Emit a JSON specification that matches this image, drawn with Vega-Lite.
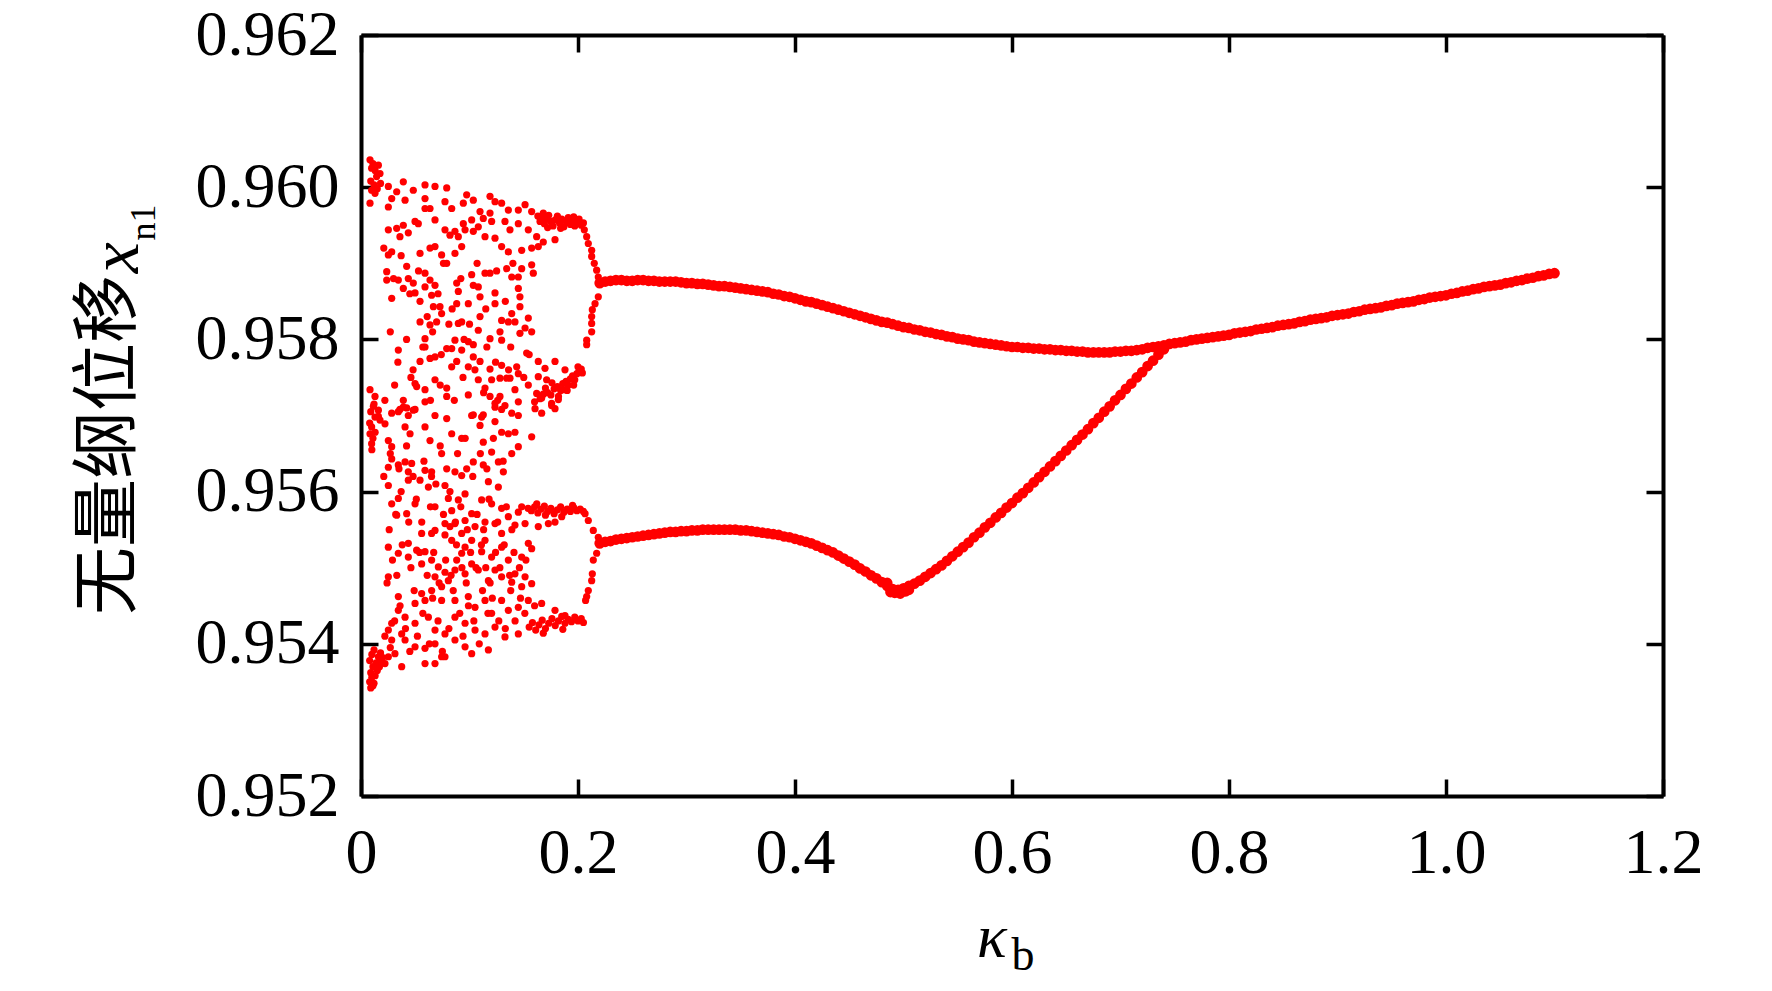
{
  "$schema": "https://vega.github.io/schema/vega-lite/v6.json",
  "width": 1302,
  "height": 761,
  "autosize": "none",
  "padding": {"left": 361, "top": 35, "right": 109, "bottom": 195},
  "background": "white",
  "config": {
    "view": {"stroke": null},
    "axis": {
      "grid": false,
      "domainColor": "black",
      "domainWidth": 4,
      "tickColor": "black",
      "tickWidth": 3.5,
      "tickSize": -17,
      "labelFont": "Liberation Serif",
      "labelFontSize": 64,
      "labelColor": "black",
      "labelOverlap": false,
      "labelFlush": false,
      "labelBound": false
    }
  },
  "resolve": {"axis": {"x": "independent", "y": "independent"}},
  "datasets": {
    "chaos": [
      {"k":0.0083,"v":0.96036},{"k":0.0098,"v":0.96025},{"k":0.016,"v":0.96029},{"k":0.0175,"v":0.96018},{"k":0.0144,"v":0.96014},{"k":0.0098,"v":0.95996},{"k":0.0129,"v":0.95992},{"k":0.0083,"v":0.95979},{"k":0.011,"v":0.96031},{"k":0.013,"v":0.96022},{"k":0.009,"v":0.96008},{"k":0.012,"v":0.96003},{"k":0.015,"v":0.95998},{"k":0.018,"v":0.96005},
      {"k":0.0252,"v":0.96001},{"k":0.0252,"v":0.95974},{"k":0.0283,"v":0.95985},{"k":0.0329,"v":0.95994},{"k":0.039,"v":0.96007},{"k":0.0406,"v":0.95983},{"k":0.0482,"v":0.95996},{"k":0.059,"v":0.96003},{"k":0.0682,"v":0.96001},{"k":0.079,"v":0.95999},{"k":0.059,"v":0.95985},{"k":0.059,"v":0.95972},{"k":0.0636,"v":0.95972},{"k":0.0774,"v":0.95981},{"k":0.0836,"v":0.95972},{"k":0.0682,"v":0.95957},{"k":0.0774,"v":0.95944},{"k":0.0252,"v":0.95944},{"k":0.0329,"v":0.95946},{"k":0.0359,"v":0.95935},{"k":0.0436,"v":0.9594},{"k":0.039,"v":0.9595},{"k":0.0498,"v":0.95955},{"k":0.0528,"v":0.95952},
      {"k":0.0252,"v":0.95911},{"k":0.0283,"v":0.95915},{"k":0.0544,"v":0.95913},{"k":0.0636,"v":0.9592},{"k":0.0682,"v":0.95922},{"k":0.0743,"v":0.95911},{"k":0.079,"v":0.959},{"k":0.0866,"v":0.95913},{"k":0.0928,"v":0.95922},{"k":0.0974,"v":0.9599},{"k":0.1035,"v":0.95983},{"k":0.0943,"v":0.95979},{"k":0.1097,"v":0.95968},{"k":0.1189,"v":0.95988},{"k":0.1235,"v":0.95981},{"k":0.1296,"v":0.95979},{"k":0.1358,"v":0.9597},{"k":0.145,"v":0.9597},{"k":0.1512,"v":0.95977},{"k":0.1573,"v":0.95968},
      {"k":0.163,"v":0.95962},{"k":0.165,"v":0.95955},{"k":0.167,"v":0.9596},{"k":0.169,"v":0.95952},{"k":0.171,"v":0.95958},{"k":0.173,"v":0.95963},{"k":0.175,"v":0.95955},{"k":0.177,"v":0.95949},{"k":0.179,"v":0.95957},{"k":0.181,"v":0.95962},{"k":0.183,"v":0.95953},{"k":0.185,"v":0.95958},{"k":0.187,"v":0.95948},{"k":0.189,"v":0.95955},{"k":0.191,"v":0.9596},{"k":0.193,"v":0.95951},{"k":0.195,"v":0.95956},{"k":0.197,"v":0.95949},{"k":0.199,"v":0.95954},{"k":0.201,"v":0.95958},{"k":0.203,"v":0.9595},{"k":0.205,"v":0.95953},{"k":0.172,"v":0.95947},{"k":0.184,"v":0.95946},{"k":0.196,"v":0.95961},{"k":0.168,"v":0.95966},
      {"k":0.1189,"v":0.95966},{"k":0.1204,"v":0.95955},{"k":0.1127,"v":0.95959},{"k":0.102,"v":0.95957},{"k":0.0943,"v":0.95952},{"k":0.0866,"v":0.95942},{"k":0.082,"v":0.95937},{"k":0.0897,"v":0.95935},{"k":0.0959,"v":0.95944},{"k":0.1035,"v":0.95942},{"k":0.1081,"v":0.95948},{"k":0.1143,"v":0.95935},{"k":0.1235,"v":0.95933},{"k":0.1296,"v":0.95922},{"k":0.1358,"v":0.95915},{"k":0.1481,"v":0.95917},{"k":0.1573,"v":0.9592},{"k":0.1634,"v":0.95922},{"k":0.168,"v":0.95928},{"k":0.1788,"v":0.95931},{"k":0.1327,"v":0.95955},{"k":0.1373,"v":0.95944},{"k":0.145,"v":0.95952},{"k":0.1542,"v":0.95944},{"k":0.1619,"v":0.95935},
      {"k":0.0237,"v":0.95889},{"k":0.0237,"v":0.95878},{"k":0.0283,"v":0.95854},{"k":0.0344,"v":0.95878},{"k":0.0421,"v":0.95896},{"k":0.0436,"v":0.9588},{"k":0.039,"v":0.95867},{"k":0.0482,"v":0.95874},{"k":0.0498,"v":0.95861},{"k":0.059,"v":0.95887},{"k":0.059,"v":0.95869},{"k":0.0636,"v":0.95878},{"k":0.0682,"v":0.95871},{"k":0.0651,"v":0.95858},{"k":0.0544,"v":0.9585},{"k":0.0667,"v":0.95843},{"k":0.0728,"v":0.95843},{"k":0.0743,"v":0.95834},{"k":0.0697,"v":0.95823},{"k":0.0636,"v":0.95819},{"k":0.0544,"v":0.95823},
      {"k":0.0882,"v":0.95874},{"k":0.0897,"v":0.95863},{"k":0.0882,"v":0.95847},{"k":0.0989,"v":0.95847},{"k":0.102,"v":0.95885},{"k":0.1035,"v":0.95871},{"k":0.1081,"v":0.95869},{"k":0.1097,"v":0.95856},{"k":0.1143,"v":0.95887},{"k":0.1189,"v":0.95887},{"k":0.1235,"v":0.95861},{"k":0.1235,"v":0.95847},{"k":0.1343,"v":0.95893},{"k":0.1389,"v":0.95882},{"k":0.145,"v":0.95882},{"k":0.1481,"v":0.95893},{"k":0.1573,"v":0.95898},{"k":0.1588,"v":0.95887},{"k":0.145,"v":0.95867},{"k":0.1465,"v":0.95856},{"k":0.1465,"v":0.95843},{"k":0.1389,"v":0.95834},{"k":0.1358,"v":0.95823},{"k":0.1419,"v":0.95823},{"k":0.1542,"v":0.95828},{"k":0.1512,"v":0.95815},{"k":0.1573,"v":0.9581},{"k":0.1465,"v":0.95808},{"k":0.1296,"v":0.95825},{"k":0.1097,"v":0.9583},{"k":0.0928,"v":0.95823},{"k":0.0897,"v":0.95821},{"k":0.1081,"v":0.95812},{"k":0.1189,"v":0.95801},{"k":0.1281,"v":0.9581},{"k":0.1296,"v":0.95799},
      {"k":0.0866,"v":0.95799},{"k":0.0989,"v":0.95797},{"k":0.1035,"v":0.95793},{"k":0.0928,"v":0.95786},{"k":0.079,"v":0.95788},{"k":0.0836,"v":0.95788},{"k":0.059,"v":0.95801},{"k":0.059,"v":0.9579},{"k":0.0636,"v":0.95775},{"k":0.0682,"v":0.95777},{"k":0.0544,"v":0.95771},{"k":0.0344,"v":0.95786},{"k":0.0836,"v":0.95764},{"k":0.0882,"v":0.95771},{"k":0.0989,"v":0.95764},{"k":0.1035,"v":0.95777},{"k":0.1097,"v":0.95771},{"k":0.1189,"v":0.95761},{"k":0.1296,"v":0.95766},{"k":0.1343,"v":0.95749},{"k":0.1435,"v":0.95764},{"k":0.145,"v":0.95755},{"k":0.1527,"v":0.95782},{"k":0.1634,"v":0.95771},{"k":0.1696,"v":0.95762},{"k":0.1788,"v":0.95771},{"k":0.188,"v":0.9576},
      {"k":0.16,"v":0.95718},{"k":0.165,"v":0.95722},{"k":0.168,"v":0.95728},{"k":0.172,"v":0.9573},{"k":0.175,"v":0.95727},{"k":0.178,"v":0.95735},{"k":0.181,"v":0.95738},{"k":0.184,"v":0.95733},{"k":0.186,"v":0.95742},{"k":0.189,"v":0.95745},{"k":0.191,"v":0.9574},{"k":0.193,"v":0.95748},{"k":0.195,"v":0.95752},{"k":0.197,"v":0.95747},{"k":0.199,"v":0.95755},{"k":0.201,"v":0.95758},{"k":0.203,"v":0.95761},{"k":0.204,"v":0.95756},{"k":0.182,"v":0.95725},{"k":0.19,"v":0.95733},{"k":0.196,"v":0.9574},{"k":0.17,"v":0.95736},{"k":0.176,"v":0.95743},{"k":0.2,"v":0.95764},
      {"k":0.1634,"v":0.95751},{"k":0.1711,"v":0.95747},{"k":0.1542,"v":0.9574},{"k":0.1619,"v":0.95729},{"k":0.1665,"v":0.95723},{"k":0.1757,"v":0.95716},{"k":0.1819,"v":0.95721},{"k":0.1865,"v":0.95734},{"k":0.0498,"v":0.95742},{"k":0.0513,"v":0.95738},{"k":0.059,"v":0.95734},{"k":0.0682,"v":0.95747},{"k":0.079,"v":0.95736},{"k":0.079,"v":0.95725},{"k":0.059,"v":0.95718},{"k":0.0421,"v":0.9571},{"k":0.0359,"v":0.95708},{"k":0.0283,"v":0.95703},{"k":0.0498,"v":0.95708},{"k":0.0083,"v":0.95734},{"k":0.0129,"v":0.95725},{"k":0.0114,"v":0.95712},{"k":0.016,"v":0.95699},{"k":0.0989,"v":0.95727},{"k":0.1081,"v":0.95747},{"k":0.1143,"v":0.95736},{"k":0.1204,"v":0.95747},{"k":0.1189,"v":0.95725},{"k":0.1281,"v":0.95749},{"k":0.1281,"v":0.95725},{"k":0.1373,"v":0.95749},{"k":0.1419,"v":0.95734},{"k":0.145,"v":0.95718},{"k":0.1235,"v":0.95716},{"k":0.1035,"v":0.95701},{"k":0.1127,"v":0.95701},{"k":0.1296,"v":0.95708},{"k":0.1389,"v":0.95703},
      {"k":0.021,"v":0.9592},{"k":0.03,"v":0.9588},{"k":0.037,"v":0.9591},{"k":0.045,"v":0.9586},{"k":0.053,"v":0.9589},{"k":0.061,"v":0.9583},{"k":0.071,"v":0.9586},{"k":0.076,"v":0.959},{"k":0.084,"v":0.9584},{"k":0.092,"v":0.9588},{"k":0.1,"v":0.9582},{"k":0.107,"v":0.959},{"k":0.115,"v":0.9584},{"k":0.125,"v":0.9589},{"k":0.133,"v":0.9585},{"k":0.14,"v":0.959},{"k":0.027,"v":0.9581},{"k":0.034,"v":0.9577},{"k":0.042,"v":0.958},{"k":0.048,"v":0.9576},{"k":0.057,"v":0.9579},{"k":0.066,"v":0.9581},{"k":0.074,"v":0.9578},{"k":0.081,"v":0.9582},{"k":0.095,"v":0.958},{"k":0.105,"v":0.9576},{"k":0.116,"v":0.9579},{"k":0.124,"v":0.9577},{"k":0.138,"v":0.9579},{"k":0.022,"v":0.9572},{"k":0.031,"v":0.9574},{"k":0.039,"v":0.9572},{"k":0.046,"v":0.9575},{"k":0.064,"v":0.9572},{"k":0.073,"v":0.9574},{"k":0.086,"v":0.9572},{"k":0.094,"v":0.9575},{"k":0.113,"v":0.9573},{"k":0.126,"v":0.9572},{"k":0.136,"v":0.9576},{"k":0.15,"v":0.9575},{"k":0.155,"v":0.9578},
      {"k":0.2058,"v":0.95944},{"k":0.208,"v":0.95935},{"k":0.2095,"v":0.95926},{"k":0.2126,"v":0.95917},{"k":0.2126,"v":0.95909},{"k":0.215,"v":0.959},{"k":0.2172,"v":0.95891},{"k":0.2187,"v":0.95882},{"k":0.2187,"v":0.95856},{"k":0.2157,"v":0.95847},{"k":0.2132,"v":0.95839},{"k":0.2126,"v":0.9583},{"k":0.2126,"v":0.95821},{"k":0.2126,"v":0.9581},{"k":0.208,"v":0.95799},{"k":0.208,"v":0.95793},
      {"k":0.0129,"v":0.95698},{"k":0.016,"v":0.95707},{"k":0.0098,"v":0.95685},{"k":0.0083,"v":0.95676},{"k":0.0098,"v":0.95663},{"k":0.0175,"v":0.95694},{"k":0.0221,"v":0.95689},{"k":0.0252,"v":0.95667},{"k":0.0283,"v":0.95659},{"k":0.0344,"v":0.95705},{"k":0.039,"v":0.95711},{"k":0.0436,"v":0.957},{"k":0.0482,"v":0.95707},{"k":0.0406,"v":0.95685},{"k":0.0452,"v":0.95676},{"k":0.059,"v":0.95685},{"k":0.0682,"v":0.957},{"k":0.079,"v":0.95696},{"k":0.0636,"v":0.95667},{"k":0.0743,"v":0.9565},{"k":0.0836,"v":0.95676},{"k":0.0928,"v":0.9567},{"k":0.102,"v":0.957},{"k":0.1112,"v":0.95698},{"k":0.1097,"v":0.95687},{"k":0.1235,"v":0.95692},{"k":0.1127,"v":0.95665},{"k":0.1204,"v":0.95652},{"k":0.1296,"v":0.95678},{"k":0.1358,"v":0.95676},{"k":0.1419,"v":0.95678},{"k":0.1235,"v":0.95711},{"k":0.1327,"v":0.95713},{"k":0.145,"v":0.957},{"k":0.1573,"v":0.95672},{"k":0.145,"v":0.95659},{"k":0.1389,"v":0.9565},{"k":0.1604,"v":0.95709},{"k":0.1665,"v":0.95703},{"k":0.1757,"v":0.95713},{"k":0.1788,"v":0.95709},
      {"k":0.008,"v":0.9569},{"k":0.011,"v":0.9567},{"k":0.013,"v":0.95678},{"k":0.009,"v":0.95705},{"k":0.012,"v":0.95715},{"k":0.01,"v":0.95655},
      {"k":0.0252,"v":0.95632},{"k":0.0283,"v":0.95643},{"k":0.0344,"v":0.95635},{"k":0.0406,"v":0.95639},{"k":0.0467,"v":0.95637},{"k":0.0436,"v":0.95626},{"k":0.0252,"v":0.95608},{"k":0.0283,"v":0.95584},{"k":0.0344,"v":0.95591},{"k":0.0329,"v":0.95569},{"k":0.0421,"v":0.95571},{"k":0.0436,"v":0.95615},{"k":0.0498,"v":0.95584},{"k":0.0544,"v":0.95615},{"k":0.059,"v":0.95628},{"k":0.0651,"v":0.95626},{"k":0.0621,"v":0.95606},{"k":0.0682,"v":0.9558},{"k":0.0774,"v":0.95608},{"k":0.0805,"v":0.95591},{"k":0.0866,"v":0.95626},{"k":0.0928,"v":0.95621},{"k":0.0974,"v":0.9563},{"k":0.1035,"v":0.95639},{"k":0.1127,"v":0.95635},{"k":0.1266,"v":0.95639},{"k":0.1312,"v":0.95626},{"k":0.1174,"v":0.95613},{"k":0.1266,"v":0.95606},{"k":0.0836,"v":0.95575},{"k":0.0897,"v":0.95589},{"k":0.0959,"v":0.95597},{"k":0.0866,"v":0.95558},{"k":0.0959,"v":0.95562},{"k":0.102,"v":0.95571},{"k":0.0928,"v":0.95545},{"k":0.0774,"v":0.95558},{"k":0.082,"v":0.95554},{"k":0.1112,"v":0.95589},{"k":0.1204,"v":0.95584},{"k":0.1296,"v":0.95578},{"k":0.1358,"v":0.95567},{"k":0.145,"v":0.95573},{"k":0.1481,"v":0.9558},
      {"k":0.021,"v":0.9562},{"k":0.027,"v":0.9565},{"k":0.035,"v":0.9563},{"k":0.042,"v":0.9566},{"k":0.048,"v":0.9562},{"k":0.058,"v":0.9564},{"k":0.065,"v":0.9562},{"k":0.073,"v":0.9566},{"k":0.079,"v":0.9563},{"k":0.089,"v":0.9565},{"k":0.096,"v":0.9567},{"k":0.103,"v":0.9562},{"k":0.11,"v":0.9565},{"k":0.116,"v":0.9563},{"k":0.122,"v":0.9567},{"k":0.131,"v":0.9564},
      {"k":0.026,"v":0.9555},{"k":0.032,"v":0.9557},{"k":0.037,"v":0.956},{"k":0.044,"v":0.9556},{"k":0.051,"v":0.9559},{"k":0.056,"v":0.9556},{"k":0.064,"v":0.9558},{"k":0.069,"v":0.9561},{"k":0.076,"v":0.9557},{"k":0.082,"v":0.956},{"k":0.087,"v":0.9556},{"k":0.092,"v":0.9558},{"k":0.098,"v":0.9555},{"k":0.107,"v":0.9557},{"k":0.113,"v":0.9555},{"k":0.118,"v":0.9559},{"k":0.126,"v":0.9556},{"k":0.134,"v":0.9558},{"k":0.139,"v":0.9555},
      {"k":0.154,"v":0.95578},{"k":0.157,"v":0.95575},{"k":0.16,"v":0.9558},{"k":0.163,"v":0.95572},{"k":0.166,"v":0.95577},{"k":0.169,"v":0.95581},{"k":0.172,"v":0.95574},{"k":0.175,"v":0.95578},{"k":0.178,"v":0.95571},{"k":0.181,"v":0.95576},{"k":0.184,"v":0.9558},{"k":0.187,"v":0.95573},{"k":0.19,"v":0.95577},{"k":0.193,"v":0.95574},{"k":0.196,"v":0.95579},{"k":0.199,"v":0.95575},{"k":0.202,"v":0.95577},{"k":0.205,"v":0.95574},{"k":0.17,"v":0.95569},{"k":0.185,"v":0.95567},{"k":0.162,"v":0.95584},{"k":0.195,"v":0.95582},
      {"k":0.1419,"v":0.95556},{"k":0.1512,"v":0.95558},{"k":0.1634,"v":0.95554},{"k":0.1727,"v":0.95558},{"k":0.1788,"v":0.9556},{"k":0.1051,"v":0.95554},{"k":0.1143,"v":0.9556},{"k":0.1235,"v":0.95558},{"k":0.1296,"v":0.95545},{"k":0.1143,"v":0.95536},{"k":0.102,"v":0.95536},{"k":0.0959,"v":0.95527},{"k":0.0836,"v":0.95536},{"k":0.0774,"v":0.95543},{"k":0.0682,"v":0.95549},{"k":0.0651,"v":0.95545},{"k":0.0559,"v":0.95545},{"k":0.0252,"v":0.95527},{"k":0.0344,"v":0.95519},{"k":0.0436,"v":0.95532},{"k":0.0436,"v":0.95514},{"k":0.0513,"v":0.95523},{"k":0.059,"v":0.95521},{"k":0.0559,"v":0.95505},{"k":0.0651,"v":0.9551},{"k":0.0713,"v":0.95501},{"k":0.0682,"v":0.95488},{"k":0.0774,"v":0.95494},{"k":0.0882,"v":0.9551},{"k":0.0928,"v":0.95519},{"k":0.102,"v":0.95505},{"k":0.1112,"v":0.95521},{"k":0.1204,"v":0.95514},{"k":0.1296,"v":0.95527},{"k":0.1358,"v":0.9551},{"k":0.1481,"v":0.95514},{"k":0.1542,"v":0.95532},{"k":0.1573,"v":0.95525},
      {"k":0.024,"v":0.9548},{"k":0.029,"v":0.9551},{"k":0.033,"v":0.9549},{"k":0.038,"v":0.9553},{"k":0.046,"v":0.955},{"k":0.049,"v":0.9547},{"k":0.054,"v":0.9552},{"k":0.061,"v":0.9549},{"k":0.067,"v":0.9552},{"k":0.072,"v":0.9548},{"k":0.078,"v":0.9551},{"k":0.083,"v":0.9549},{"k":0.088,"v":0.9553},{"k":0.093,"v":0.955},{"k":0.097,"v":0.9548},{"k":0.101,"v":0.9552},{"k":0.106,"v":0.955},{"k":0.111,"v":0.9553},{"k":0.115,"v":0.955},{"k":0.119,"v":0.9548},{"k":0.124,"v":0.9552},{"k":0.128,"v":0.955},{"k":0.132,"v":0.9553},{"k":0.137,"v":0.9549},{"k":0.141,"v":0.9552},{"k":0.146,"v":0.955},{"k":0.152,"v":0.9551},
      {"k":0.1419,"v":0.95492},{"k":0.1512,"v":0.95488},{"k":0.1573,"v":0.95479},{"k":0.1481,"v":0.95475},{"k":0.1389,"v":0.95481},{"k":0.1296,"v":0.95488},{"k":0.1235,"v":0.95497},{"k":0.1174,"v":0.95483},{"k":0.1081,"v":0.95497},{"k":0.0959,"v":0.95492},{"k":0.0866,"v":0.95497},{"k":0.0805,"v":0.95483},{"k":0.0743,"v":0.95475},{"k":0.0651,"v":0.9547},{"k":0.0559,"v":0.95466},{"k":0.059,"v":0.95457},{"k":0.0498,"v":0.95453},{"k":0.0743,"v":0.95457},{"k":0.0866,"v":0.95457},{"k":0.0989,"v":0.95462},{"k":0.1051,"v":0.95448},{"k":0.1143,"v":0.95457},{"k":0.1204,"v":0.9544},{"k":0.1296,"v":0.95457},{"k":0.1358,"v":0.95444},{"k":0.145,"v":0.95448},{"k":0.1542,"v":0.95457},{"k":0.1665,"v":0.95453},{"k":0.1788,"v":0.95444},{"k":0.188,"v":0.95437},
      {"k":0.022,"v":0.9541},{"k":0.027,"v":0.95395},{"k":0.031,"v":0.9543},{"k":0.036,"v":0.9545},{"k":0.041,"v":0.9542},{"k":0.045,"v":0.9539},{"k":0.052,"v":0.9541},{"k":0.057,"v":0.9544},{"k":0.063,"v":0.954},{"k":0.066,"v":0.9546},{"k":0.071,"v":0.9543},{"k":0.075,"v":0.9539},{"k":0.081,"v":0.9542},{"k":0.085,"v":0.9547},{"k":0.091,"v":0.9544},{"k":0.094,"v":0.9541},{"k":0.099,"v":0.9545},{"k":0.104,"v":0.9543},{"k":0.109,"v":0.954},{"k":0.112,"v":0.9547},{"k":0.117,"v":0.9544},{"k":0.121,"v":0.9546},{"k":0.127,"v":0.9543},{"k":0.133,"v":0.9542},{"k":0.138,"v":0.9547},{"k":0.142,"v":0.9543},{"k":0.147,"v":0.9546},{"k":0.151,"v":0.9544},{"k":0.16,"v":0.9545},
      {"k":0.155,"v":0.95422},{"k":0.158,"v":0.95428},{"k":0.161,"v":0.95418},{"k":0.164,"v":0.95425},{"k":0.167,"v":0.95431},{"k":0.17,"v":0.9542},{"k":0.173,"v":0.95427},{"k":0.176,"v":0.95433},{"k":0.179,"v":0.95424},{"k":0.182,"v":0.9543},{"k":0.185,"v":0.95436},{"k":0.188,"v":0.95427},{"k":0.191,"v":0.95432},{"k":0.194,"v":0.95429},{"k":0.197,"v":0.95435},{"k":0.2,"v":0.9543},{"k":0.203,"v":0.95433},{"k":0.205,"v":0.95428},{"k":0.168,"v":0.95414},{"k":0.186,"v":0.95419},
      {"k":0.0252,"v":0.95488},{"k":0.0344,"v":0.95462},{"k":0.0344,"v":0.95444},{"k":0.0283,"v":0.95427},{"k":0.0252,"v":0.95418},{"k":0.0406,"v":0.95435},{"k":0.0498,"v":0.95427},{"k":0.0621,"v":0.95435},{"k":0.0682,"v":0.95418},{"k":0.0774,"v":0.95413},{"k":0.0866,"v":0.95435},{"k":0.0959,"v":0.95427},{"k":0.1051,"v":0.95418},{"k":0.1143,"v":0.95413},{"k":0.1235,"v":0.95422},{"k":0.1327,"v":0.95409},{"k":0.145,"v":0.95413},{"k":0.0375,"v":0.95413},{"k":0.0283,"v":0.95405},{"k":0.0406,"v":0.95405},{"k":0.0498,"v":0.95396},{"k":0.059,"v":0.95394},{"k":0.0682,"v":0.954},{"k":0.0743,"v":0.95383},{"k":0.0866,"v":0.95405},{"k":0.0959,"v":0.95396},{"k":0.102,"v":0.95387},{"k":0.1174,"v":0.95392},{"k":0.059,"v":0.95374},{"k":0.0682,"v":0.95374},{"k":0.0774,"v":0.95383},{"k":0.0375,"v":0.9537},{"k":0.0252,"v":0.95383},{"k":0.0221,"v":0.95374},{"k":0.0313,"v":0.95387},
      {"k":0.008,"v":0.9535},{"k":0.01,"v":0.95356},{"k":0.012,"v":0.95348},{"k":0.009,"v":0.95362},{"k":0.011,"v":0.9537},{"k":0.013,"v":0.95358},{"k":0.015,"v":0.95365},{"k":0.014,"v":0.95375},{"k":0.017,"v":0.9537},{"k":0.019,"v":0.95378},{"k":0.016,"v":0.95383},{"k":0.008,"v":0.95378},{"k":0.01,"v":0.95386},{"k":0.012,"v":0.95392},{"k":0.018,"v":0.95388},{"k":0.02,"v":0.95382},{"k":0.009,"v":0.95342},{"k":0.011,"v":0.95345},
      {"k":0.2065,"v":0.95571},{"k":0.2095,"v":0.95562},{"k":0.2141,"v":0.95549},{"k":0.2187,"v":0.9554},{"k":0.2172,"v":0.95519},{"k":0.2141,"v":0.9551},{"k":0.2132,"v":0.95492},{"k":0.2126,"v":0.95483},{"k":0.2095,"v":0.9547},{"k":0.208,"v":0.95462},{"k":0.207,"v":0.95457}
    ],
    "branch": [
      {"k":0.22,"v":0.95874},{"k":0.225,"v":0.95876},{"k":0.23,"v":0.95877},{"k":0.235,"v":0.95878},{"k":0.24,"v":0.95878},{"k":0.245,"v":0.95877},{"k":0.25,"v":0.95877},{"k":0.255,"v":0.95878},{"k":0.26,"v":0.95878},{"k":0.265,"v":0.95877},{"k":0.27,"v":0.95877},{"k":0.275,"v":0.95876},{"k":0.28,"v":0.95876},{"k":0.285,"v":0.95876},{"k":0.29,"v":0.95876},{"k":0.295,"v":0.95875},{"k":0.3,"v":0.95874},{"k":0.305,"v":0.95874},{"k":0.31,"v":0.95873},{"k":0.315,"v":0.95873},{"k":0.32,"v":0.95872},{"k":0.325,"v":0.95871},{"k":0.33,"v":0.9587},{"k":0.335,"v":0.9587},{"k":0.34,"v":0.95869},{"k":0.345,"v":0.95868},{"k":0.35,"v":0.95867},{"k":0.355,"v":0.95866},{"k":0.36,"v":0.95865},{"k":0.365,"v":0.95864},{"k":0.37,"v":0.95863},{"k":0.375,"v":0.95862},{"k":0.38,"v":0.9586},{"k":0.385,"v":0.95859},{"k":0.39,"v":0.95857},{"k":0.395,"v":0.95856},{"k":0.4,"v":0.95854},{"k":0.405,"v":0.95852},{"k":0.41,"v":0.9585},{"k":0.415,"v":0.95849},{"k":0.42,"v":0.95847},{"k":0.425,"v":0.95845},{"k":0.43,"v":0.95843},{"k":0.435,"v":0.95841},{"k":0.44,"v":0.95839},{"k":0.445,"v":0.95837},{"k":0.45,"v":0.95835},{"k":0.455,"v":0.95833},{"k":0.46,"v":0.95831},{"k":0.465,"v":0.95829},{"k":0.47,"v":0.95827},{"k":0.475,"v":0.95825},{"k":0.48,"v":0.95823},{"k":0.485,"v":0.95822},{"k":0.49,"v":0.9582},{"k":0.495,"v":0.95818},{"k":0.5,"v":0.95816},
      {"k":0.505,"v":0.95815},{"k":0.51,"v":0.95813},{"k":0.515,"v":0.95812},{"k":0.52,"v":0.9581},{"k":0.525,"v":0.95809},{"k":0.53,"v":0.95807},{"k":0.535,"v":0.95806},{"k":0.54,"v":0.95804},{"k":0.545,"v":0.95803},{"k":0.55,"v":0.95801},{"k":0.555,"v":0.958},{"k":0.56,"v":0.95799},{"k":0.565,"v":0.95797},{"k":0.57,"v":0.95796},{"k":0.575,"v":0.95795},{"k":0.58,"v":0.95794},{"k":0.585,"v":0.95793},{"k":0.59,"v":0.95792},{"k":0.595,"v":0.95791},{"k":0.6,"v":0.9579},{"k":0.605,"v":0.9579},{"k":0.61,"v":0.95789},{"k":0.615,"v":0.95789},{"k":0.62,"v":0.95788},{"k":0.625,"v":0.95788},{"k":0.63,"v":0.95787},{"k":0.635,"v":0.95787},{"k":0.64,"v":0.95786},{"k":0.645,"v":0.95786},{"k":0.65,"v":0.95785},{"k":0.655,"v":0.95785},{"k":0.66,"v":0.95784},{"k":0.665,"v":0.95784},{"k":0.67,"v":0.95783},{"k":0.675,"v":0.95783},{"k":0.68,"v":0.95783},{"k":0.685,"v":0.95783},{"k":0.69,"v":0.95783},{"k":0.695,"v":0.95784},{"k":0.7,"v":0.95784},{"k":0.705,"v":0.95785},{"k":0.71,"v":0.95785},{"k":0.715,"v":0.95786},{"k":0.72,"v":0.95787},{"k":0.725,"v":0.95789},{"k":0.73,"v":0.9579},{"k":0.735,"v":0.95791},{"k":0.74,"v":0.95792},{"k":0.745,"v":0.95794},{"k":0.75,"v":0.95795},
      {"k":0.755,"v":0.95796},{"k":0.76,"v":0.95797},{"k":0.765,"v":0.95799},{"k":0.77,"v":0.958},{"k":0.775,"v":0.95801},{"k":0.78,"v":0.95802},{"k":0.785,"v":0.95803},{"k":0.79,"v":0.95804},{"k":0.795,"v":0.95805},{"k":0.8,"v":0.95806},{"k":0.805,"v":0.95808},{"k":0.81,"v":0.95809},{"k":0.815,"v":0.9581},{"k":0.82,"v":0.95811},{"k":0.825,"v":0.95813},{"k":0.83,"v":0.95814},{"k":0.835,"v":0.95815},{"k":0.84,"v":0.95816},{"k":0.845,"v":0.95818},{"k":0.85,"v":0.95819},{"k":0.855,"v":0.9582},{"k":0.86,"v":0.95821},{"k":0.865,"v":0.95823},{"k":0.87,"v":0.95824},{"k":0.875,"v":0.95826},{"k":0.88,"v":0.95827},{"k":0.885,"v":0.95828},{"k":0.89,"v":0.95829},{"k":0.895,"v":0.95831},{"k":0.9,"v":0.95832},{"k":0.905,"v":0.95833},{"k":0.91,"v":0.95834},{"k":0.915,"v":0.95836},{"k":0.92,"v":0.95837},{"k":0.925,"v":0.95839},{"k":0.93,"v":0.9584},{"k":0.935,"v":0.95841},{"k":0.94,"v":0.95842},{"k":0.945,"v":0.95844},{"k":0.95,"v":0.95845},{"k":0.955,"v":0.95847},{"k":0.96,"v":0.95848},{"k":0.965,"v":0.95849},{"k":0.97,"v":0.9585},{"k":0.975,"v":0.95852},{"k":0.98,"v":0.95853},{"k":0.985,"v":0.95855},{"k":0.99,"v":0.95856},{"k":0.995,"v":0.95857},{"k":1.0,"v":0.95858},
      {"k":1.005,"v":0.9586},{"k":1.01,"v":0.95861},{"k":1.015,"v":0.95863},{"k":1.02,"v":0.95864},{"k":1.025,"v":0.95866},{"k":1.03,"v":0.95867},{"k":1.035,"v":0.95869},{"k":1.04,"v":0.9587},{"k":1.045,"v":0.95871},{"k":1.05,"v":0.95872},{"k":1.055,"v":0.95874},{"k":1.06,"v":0.95875},{"k":1.065,"v":0.95877},{"k":1.07,"v":0.95878},{"k":1.075,"v":0.9588},{"k":1.08,"v":0.95881},{"k":1.085,"v":0.95883},{"k":1.09,"v":0.95884},{"k":1.095,"v":0.95886},{"k":1.1,"v":0.95887},
      {"k":0.22,"v":0.95532},{"k":0.225,"v":0.95534},{"k":0.23,"v":0.95535},{"k":0.235,"v":0.95537},{"k":0.24,"v":0.95538},{"k":0.245,"v":0.95539},{"k":0.25,"v":0.9554},{"k":0.255,"v":0.95541},{"k":0.26,"v":0.95542},{"k":0.265,"v":0.95543},{"k":0.27,"v":0.95544},{"k":0.275,"v":0.95545},{"k":0.28,"v":0.95546},{"k":0.285,"v":0.95547},{"k":0.29,"v":0.95547},{"k":0.295,"v":0.95548},{"k":0.3,"v":0.95548},{"k":0.305,"v":0.95549},{"k":0.31,"v":0.95549},{"k":0.315,"v":0.9555},{"k":0.32,"v":0.9555},{"k":0.325,"v":0.9555},{"k":0.33,"v":0.9555},{"k":0.335,"v":0.9555},{"k":0.34,"v":0.9555},{"k":0.345,"v":0.9555},{"k":0.35,"v":0.95549},{"k":0.355,"v":0.95549},{"k":0.36,"v":0.95548},{"k":0.365,"v":0.95547},{"k":0.37,"v":0.95546},{"k":0.375,"v":0.95545},{"k":0.38,"v":0.95544},{"k":0.385,"v":0.95543},{"k":0.39,"v":0.95541},{"k":0.395,"v":0.9554},{"k":0.4,"v":0.95538},{"k":0.405,"v":0.95536},{"k":0.41,"v":0.95534},{"k":0.415,"v":0.95532},{"k":0.42,"v":0.95529},{"k":0.425,"v":0.95526},{"k":0.43,"v":0.95523},{"k":0.435,"v":0.9552},{"k":0.44,"v":0.95516},{"k":0.445,"v":0.95512},{"k":0.45,"v":0.95508},{"k":0.455,"v":0.95504},{"k":0.46,"v":0.95499},{"k":0.465,"v":0.95495},{"k":0.47,"v":0.9549},{"k":0.475,"v":0.95486},{"k":0.48,"v":0.95481},{"k":0.485,"v":0.95476},{"k":0.49,"v":0.95472},{"k":0.495,"v":0.95471},{"k":0.5,"v":0.95473},
      {"k":0.488,"v":0.95468},{"k":0.492,"v":0.95467},{"k":0.497,"v":0.95466},{"k":0.502,"v":0.95469},{"k":0.485,"v":0.9548},{"k":0.505,"v":0.95471},
      {"k":0.505,"v":0.95476},{"k":0.51,"v":0.95479},{"k":0.515,"v":0.95483},{"k":0.52,"v":0.95488},{"k":0.525,"v":0.95493},{"k":0.53,"v":0.95498},{"k":0.535,"v":0.95503},{"k":0.54,"v":0.95509},{"k":0.545,"v":0.95515},{"k":0.55,"v":0.95521},{"k":0.555,"v":0.95527},{"k":0.56,"v":0.95533},{"k":0.565,"v":0.9554},{"k":0.57,"v":0.95546},{"k":0.575,"v":0.95553},{"k":0.58,"v":0.95559},{"k":0.585,"v":0.95566},{"k":0.59,"v":0.95572},{"k":0.595,"v":0.95579},{"k":0.6,"v":0.95585},{"k":0.605,"v":0.95592},{"k":0.61,"v":0.95598},{"k":0.615,"v":0.95605},{"k":0.62,"v":0.95612},{"k":0.625,"v":0.95619},{"k":0.63,"v":0.95626},{"k":0.635,"v":0.95633},{"k":0.64,"v":0.9564},{"k":0.645,"v":0.95647},{"k":0.65,"v":0.95654},{"k":0.655,"v":0.95661},{"k":0.66,"v":0.95668},{"k":0.665,"v":0.95675},{"k":0.67,"v":0.95682},{"k":0.675,"v":0.9569},{"k":0.68,"v":0.95697},{"k":0.685,"v":0.95705},{"k":0.69,"v":0.95712},{"k":0.695,"v":0.9572},{"k":0.7,"v":0.95727},{"k":0.705,"v":0.95735},{"k":0.71,"v":0.95742},{"k":0.715,"v":0.9575},{"k":0.72,"v":0.95757},{"k":0.725,"v":0.95765},{"k":0.73,"v":0.95772},{"k":0.735,"v":0.9578},{"k":0.74,"v":0.95787}
    ]
  },
  "layer": [
    {
      "data": {"name": "chaos"},
      "mark": {"type": "circle", "size": 52, "color": "#ff0000", "opacity": 1},
      "encoding": {
        "x": {
          "field": "k", "type": "quantitative",
          "scale": {"domain": [0, 1.2], "nice": false, "zero": false},
          "axis": {"orient": "bottom", "title": null, "values": [0, 0.2, 0.4, 0.6, 0.8, 1.0, 1.2], "labelExpr": "datum.value == 0 ? '0' : format(datum.value, '.1f')", "labelPadding": 42}
        },
        "y": {
          "field": "v", "type": "quantitative",
          "scale": {"domain": [0.952, 0.962], "nice": false, "zero": false},
          "axis": {"orient": "left", "title": null, "values": [0.952, 0.954, 0.956, 0.958, 0.96, 0.962], "format": ".3f", "labelPadding": 39}
        }
      }
    },
    {
      "data": {"name": "branch"},
      "mark": {"type": "circle", "size": 115, "color": "#ff0000", "opacity": 1},
      "encoding": {
        "x": {"field": "k", "type": "quantitative", "scale": {"domain": [0, 1.2], "nice": false, "zero": false}, "axis": null},
        "y": {"field": "v", "type": "quantitative", "scale": {"domain": [0.952, 0.962], "nice": false, "zero": false}, "axis": null}
      }
    },
    {
      "data": {"values": [{}]},
      "mark": {"type": "point", "opacity": 0},
      "encoding": {
        "x": {"datum": 0, "type": "quantitative", "scale": {"domain": [0, 1.2], "nice": false, "zero": false},
          "axis": {"orient": "top", "title": null, "labels": false, "values": [0, 0.2, 0.4, 0.6, 0.8, 1.0, 1.2]}},
        "y": {"datum": 0.952, "type": "quantitative", "scale": {"domain": [0.952, 0.962], "nice": false, "zero": false},
          "axis": {"orient": "right", "title": null, "labels": false, "values": [0.952, 0.954, 0.956, 0.958, 0.96, 0.962]}}
      }
    },
    {
      "data": {"values": [{}]},
      "mark": {"type": "text", "text": "κ", "font": "Liberation Serif", "fontSize": 62, "fontStyle": "italic", "align": "left", "baseline": "alphabetic", "color": "black"},
      "encoding": {
        "x": {"datum": 0.5677, "type": "quantitative", "scale": {"domain": [0, 1.2], "nice": false, "zero": false}, "axis": null},
        "y": {"datum": 0.94988, "type": "quantitative", "scale": {"domain": [0.952, 0.962], "nice": false, "zero": false}, "axis": null}
      }
    },
    {
      "data": {"values": [{}]},
      "mark": {"type": "text", "text": "b", "font": "Liberation Serif", "fontSize": 46, "align": "left", "baseline": "alphabetic", "color": "black"},
      "encoding": {
        "x": {"datum": 0.5995, "type": "quantitative", "scale": {"domain": [0, 1.2], "nice": false, "zero": false}, "axis": null},
        "y": {"datum": 0.94971, "type": "quantitative", "scale": {"domain": [0.952, 0.962], "nice": false, "zero": false}, "axis": null}
      }
    },
    {
      "data": {"values": [{}]},
      "mark": {"type": "text", "text": "无量纲位移", "font": "Noto Sans CJK SC", "fontSize": 68, "angle": 270, "align": "left", "baseline": "alphabetic", "color": "black"},
      "encoding": {
        "x": {"datum": -0.2129, "type": "quantitative", "scale": {"domain": [0, 1.2], "nice": false, "zero": false}, "axis": null},
        "y": {"datum": 0.95438, "type": "quantitative", "scale": {"domain": [0.952, 0.962], "nice": false, "zero": false}, "axis": null}
      }
    },
    {
      "data": {"values": [{}]},
      "mark": {"type": "text", "text": "x", "font": "Liberation Serif", "fontSize": 70, "fontStyle": "italic", "angle": 270, "align": "left", "baseline": "alphabetic", "color": "black"},
      "encoding": {
        "x": {"datum": -0.2055, "type": "quantitative", "scale": {"domain": [0, 1.2], "nice": false, "zero": false}, "axis": null},
        "y": {"datum": 0.95887, "type": "quantitative", "scale": {"domain": [0.952, 0.962], "nice": false, "zero": false}, "axis": null}
      }
    },
    {
      "data": {"values": [{}]},
      "mark": {"type": "text", "text": "n1", "font": "Liberation Serif", "fontSize": 36, "angle": 270, "align": "left", "baseline": "alphabetic", "color": "black"},
      "encoding": {
        "x": {"datum": -0.1899, "type": "quantitative", "scale": {"domain": [0, 1.2], "nice": false, "zero": false}, "axis": null},
        "y": {"datum": 0.9593, "type": "quantitative", "scale": {"domain": [0.952, 0.962], "nice": false, "zero": false}, "axis": null}
      }
    }
  ]
}
